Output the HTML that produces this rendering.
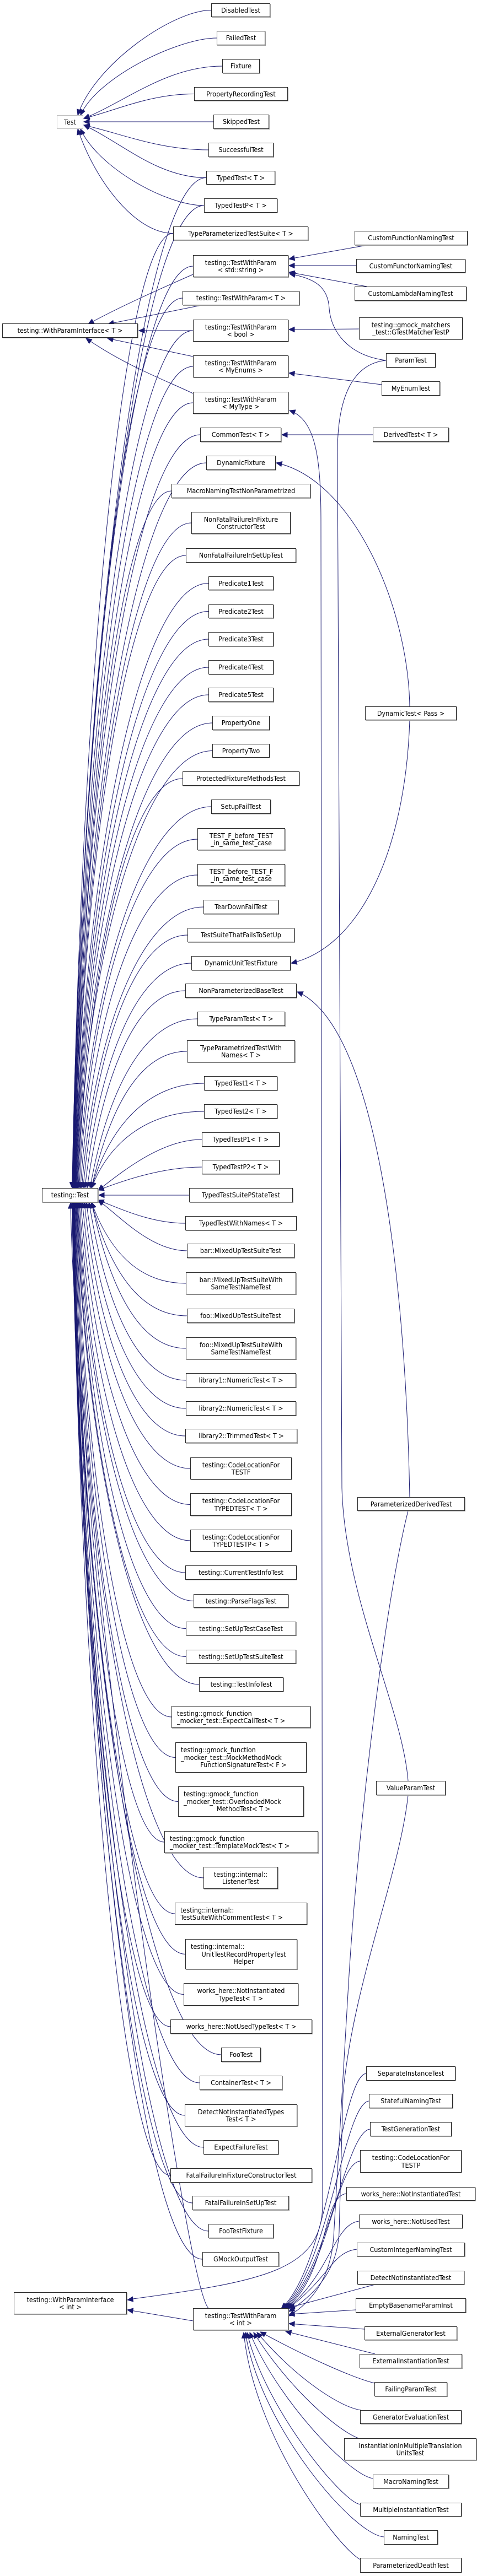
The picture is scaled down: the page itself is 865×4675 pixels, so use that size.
<!DOCTYPE html>
<html><head><meta charset="utf-8">
<style>
html,body{margin:0;padding:0;background:#fff}
#c{position:relative;width:865px;height:4675px;overflow:hidden;background:#fff}
svg{position:absolute;left:0;top:0}
.n{position:absolute;box-sizing:border-box;border:1px solid #2a2a2a;box-shadow:1px 1px 0 #9a9a9a;background:#fff;display:flex;flex-direction:column;align-items:center;justify-content:center;text-align:center;font-family:"DejaVu Sans Condensed","DejaVu Sans","Liberation Sans",sans-serif;font-stretch:condensed;font-size:12.5px;line-height:13.5px;color:#000;white-space:nowrap;z-index:2}
.g{border-color:#bfbfbf;box-shadow:none}
.l{align-items:flex-start;text-align:left;padding-left:9px}
.l span.c{align-self:center}
</style></head><body><div id="c">
<svg id="s" width="865" height="4675" xmlns="http://www.w3.org/2000/svg"></svg>

<div class="n g" style="left:103px;top:209px;width:48px;height:25px">Test</div>
<div class="n" style="left:4px;top:587px;width:246px;height:26px">testing::WithParamInterface&lt; T &gt;</div>
<div class="n" style="left:76px;top:2156px;width:102px;height:26px">testing::Test</div>
<div class="n" style="left:25px;top:4160px;width:205px;height:40px">testing::WithParamInterface<br>&lt; int &gt;</div>

<div class="n t" style="left:383px;top:6px;width:107px;height:25px">DisabledTest</div>
<div class="n t" style="left:393px;top:56px;width:88px;height:26px">FailedTest</div>
<div class="n t" style="left:403px;top:107px;width:68px;height:26px">Fixture</div>
<div class="n t" style="left:352px;top:158px;width:170px;height:25px">PropertyRecordingTest</div>
<div class="n t" style="left:387px;top:208px;width:101px;height:26px">SkippedTest</div>
<div class="n t" style="left:378px;top:259px;width:118px;height:26px">SuccessfulTest</div>
<div class="n t m" style="left:374px;top:310px;width:125px;height:25px">TypedTest&lt; T &gt;</div>
<div class="n t m" style="left:370px;top:360px;width:133px;height:26px">TypedTestP&lt; T &gt;</div>
<div class="n t m" style="left:314px;top:411px;width:245px;height:25px">TypeParameterizedTestSuite&lt; T &gt;</div>
<div class="n m" style="left:350px;top:463px;width:173px;height:40px">testing::TestWithParam<br>&lt; std::string &gt;</div>
<div class="n m" style="left:331px;top:528px;width:212px;height:26px">testing::TestWithParam&lt; T &gt;</div>
<div class="n m" style="left:350px;top:580px;width:173px;height:40px">testing::TestWithParam<br>&lt; bool &gt;</div>
<div class="n m" style="left:350px;top:645px;width:173px;height:40px">testing::TestWithParam<br>&lt; MyEnums &gt;</div>
<div class="n m" style="left:350px;top:711px;width:173px;height:40px">testing::TestWithParam<br>&lt; MyType &gt;</div>
<div class="n m" style="left:363px;top:776px;width:147px;height:26px">CommonTest&lt; T &gt;</div>
<div class="n m" style="left:374px;top:827px;width:126px;height:26px">DynamicFixture</div>
<div class="n m" style="left:311px;top:878px;width:252px;height:26px">MacroNamingTestNonParametrized</div>
<div class="n m" style="left:347px;top:929px;width:180px;height:40px">NonFatalFailureInFixture<br>ConstructorTest</div>
<div class="n m" style="left:337px;top:995px;width:200px;height:26px">NonFatalFailureInSetUpTest</div>
<div class="n m" style="left:378px;top:1046px;width:118px;height:25px">Predicate1Test</div>
<div class="n m" style="left:378px;top:1097px;width:118px;height:25px">Predicate2Test</div>
<div class="n m" style="left:378px;top:1147px;width:118px;height:26px">Predicate3Test</div>
<div class="n m" style="left:378px;top:1198px;width:118px;height:26px">Predicate4Test</div>
<div class="n m" style="left:378px;top:1248px;width:118px;height:26px">Predicate5Test</div>
<div class="n m" style="left:385px;top:1299px;width:104px;height:26px">PropertyOne</div>
<div class="n m" style="left:385px;top:1350px;width:104px;height:25px">PropertyTwo</div>
<div class="n m" style="left:331px;top:1400px;width:212px;height:26px">ProtectedFixtureMethodsTest</div>
<div class="n m" style="left:383px;top:1451px;width:108px;height:26px">SetupFailTest</div>
<div class="n m" style="left:358px;top:1503px;width:159px;height:40px">TEST_F_before_TEST<br>_in_same_test_case</div>
<div class="n m" style="left:358px;top:1568px;width:159px;height:40px">TEST_before_TEST_F<br>_in_same_test_case</div>
<div class="n m" style="left:369px;top:1633px;width:136px;height:26px">TearDownFailTest</div>
<div class="n m" style="left:340px;top:1684px;width:194px;height:26px">TestSuiteThatFailsToSetUp</div>
<div class="n m" style="left:347px;top:1735px;width:180px;height:26px">DynamicUnitTestFixture</div>
<div class="n m" style="left:336px;top:1785px;width:202px;height:26px">NonParameterizedBaseTest</div>
<div class="n m" style="left:358px;top:1836px;width:159px;height:26px">TypeParamTest&lt; T &gt;</div>
<div class="n m" style="left:339px;top:1888px;width:196px;height:40px">TypeParametrizedTestWith<br>Names&lt; T &gt;</div>
<div class="n m" style="left:370px;top:1953px;width:133px;height:26px">TypedTest1&lt; T &gt;</div>
<div class="n m" style="left:370px;top:2004px;width:133px;height:26px">TypedTest2&lt; T &gt;</div>
<div class="n m" style="left:366px;top:2055px;width:141px;height:26px">TypedTestP1&lt; T &gt;</div>
<div class="n m" style="left:366px;top:2105px;width:141px;height:26px">TypedTestP2&lt; T &gt;</div>
<div class="n m" style="left:343px;top:2156px;width:188px;height:26px">TypedTestSuitePStateTest</div>
<div class="n m" style="left:336px;top:2207px;width:202px;height:26px">TypedTestWithNames&lt; T &gt;</div>
<div class="n m" style="left:339px;top:2257px;width:195px;height:26px">bar::MixedUpTestSuiteTest</div>
<div class="n m" style="left:337px;top:2309px;width:200px;height:40px">bar::MixedUpTestSuiteWith<br>SameTestNameTest</div>
<div class="n m" style="left:339px;top:2375px;width:195px;height:26px">foo::MixedUpTestSuiteTest</div>
<div class="n m" style="left:337px;top:2427px;width:200px;height:40px">foo::MixedUpTestSuiteWith<br>SameTestNameTest</div>
<div class="n m" style="left:337px;top:2492px;width:200px;height:26px">library1::NumericTest&lt; T &gt;</div>
<div class="n m" style="left:337px;top:2543px;width:200px;height:26px">library2::NumericTest&lt; T &gt;</div>
<div class="n m" style="left:336px;top:2593px;width:203px;height:26px">library2::TrimmedTest&lt; T &gt;</div>
<div class="n m" style="left:345px;top:2645px;width:184px;height:40px">testing::CodeLocationFor<br>TESTF</div>
<div class="n m" style="left:345px;top:2710px;width:184px;height:41px">testing::CodeLocationFor<br>TYPEDTEST&lt; T &gt;</div>
<div class="n m" style="left:345px;top:2776px;width:184px;height:40px">testing::CodeLocationFor<br>TYPEDTESTP&lt; T &gt;</div>
<div class="n m" style="left:336px;top:2841px;width:202px;height:26px">testing::CurrentTestInfoTest</div>
<div class="n m" style="left:351px;top:2893px;width:172px;height:25px">testing::ParseFlagsTest</div>
<div class="n m" style="left:337px;top:2943px;width:200px;height:25px">testing::SetUpTestCaseTest</div>
<div class="n m" style="left:337px;top:2994px;width:200px;height:25px">testing::SetUpTestSuiteTest</div>
<div class="n m" style="left:361px;top:3044px;width:153px;height:26px">testing::TestInfoTest</div>
<div class="n m l" style="left:311px;top:3096px;width:252px;height:40px"><span>testing::gmock_function</span><span>_mocker_test::ExpectCallTest&lt; T &gt;</span></div>
<div class="n m l" style="left:318px;top:3162px;width:238px;height:55px"><span>testing::gmock_function</span><span>_mocker_test::MockMethodMock</span><span class="c">FunctionSignatureTest&lt; F &gt;</span></div>
<div class="n m l" style="left:323px;top:3242px;width:228px;height:55px"><span>testing::gmock_function</span><span>_mocker_test::OverloadedMock</span><span class="c">MethodTest&lt; T &gt;</span></div>
<div class="n m l" style="left:298px;top:3323px;width:279px;height:40px"><span>testing::gmock_function</span><span>_mocker_test::TemplateMockTest&lt; T &gt;</span></div>
<div class="n m" style="left:369px;top:3388px;width:135px;height:40px">testing::internal::<br>ListenerTest</div>
<div class="n m l" style="left:317px;top:3453px;width:240px;height:40px"><span>testing::internal::</span><span>TestSuiteWithCommentTest&lt; T &gt;</span></div>
<div class="n m l" style="left:336px;top:3519px;width:203px;height:55px"><span>testing::internal::</span><span class="c">UnitTestRecordPropertyTest</span><span class="c">Helper</span></div>
<div class="n m" style="left:333px;top:3599px;width:208px;height:41px">works_here::NotInstantiated<br>TypeTest&lt; T &gt;</div>
<div class="n m" style="left:309px;top:3665px;width:257px;height:26px">works_here::NotUsedTypeTest&lt; T &gt;</div>
<div class="n m" style="left:401px;top:3716px;width:72px;height:26px">FooTest</div>
<div class="n m" style="left:362px;top:3767px;width:150px;height:26px">ContainerTest&lt; T &gt;</div>
<div class="n m" style="left:335px;top:3819px;width:204px;height:40px">DetectNotInstantiatedTypes<br>Test&lt; T &gt;</div>
<div class="n m" style="left:369px;top:3884px;width:136px;height:26px">ExpectFailureTest</div>
<div class="n m" style="left:309px;top:3935px;width:257px;height:26px">FatalFailureInFixtureConstructorTest</div>
<div class="n m" style="left:349px;top:3985px;width:175px;height:26px">FatalFailureInSetUpTest</div>
<div class="n m" style="left:378px;top:4036px;width:118px;height:26px">FooTestFixture</div>
<div class="n m" style="left:367px;top:4087px;width:139px;height:26px">GMockOutputTest</div>
<div class="n" style="left:350px;top:4189px;width:173px;height:40px">testing::TestWithParam<br>&lt; int &gt;</div>

<div class="n" style="left:643px;top:419px;width:205px;height:26px">CustomFunctionNamingTest</div>
<div class="n" style="left:646px;top:470px;width:198px;height:25px">CustomFunctorNamingTest</div>
<div class="n" style="left:643px;top:520px;width:203px;height:26px">CustomLambdaNamingTest</div>
<div class="n" style="left:651px;top:576px;width:188px;height:40px">testing::gmock_matchers<br>_test::GTestMatcherTestP</div>
<div class="n" style="left:700px;top:641px;width:90px;height:26px">ParamTest</div>
<div class="n" style="left:692px;top:692px;width:106px;height:26px">MyEnumTest</div>
<div class="n" style="left:676px;top:776px;width:138px;height:26px">DerivedTest&lt; T &gt;</div>
<div class="n" style="left:662px;top:1282px;width:166px;height:25px">DynamicTest&lt; Pass &gt;</div>
<div class="n" style="left:648px;top:2717px;width:195px;height:25px">ParameterizedDerivedTest</div>
<div class="n" style="left:682px;top:3232px;width:126px;height:26px">ValueParamTest</div>
<div class="n" style="left:664px;top:3750px;width:162px;height:26px">SeparateInstanceTest</div>
<div class="n" style="left:669px;top:3800px;width:152px;height:26px">StatefulNamingTest</div>
<div class="n" style="left:671px;top:3851px;width:148px;height:26px">TestGenerationTest</div>
<div class="n" style="left:653px;top:3902px;width:184px;height:41px">testing::CodeLocationFor<br>TESTP</div>
<div class="n" style="left:628px;top:3969px;width:234px;height:25px">works_here::NotInstantiatedTest</div>
<div class="n" style="left:651px;top:4019px;width:188px;height:25px">works_here::NotUsedTest</div>
<div class="n" style="left:647px;top:4070px;width:196px;height:25px">CustomIntegerNamingTest</div>
<div class="n" style="left:648px;top:4121px;width:194px;height:25px">DetectNotInstantiatedTest</div>
<div class="n" style="left:645px;top:4171px;width:200px;height:26px">EmptyBasenameParamInst</div>
<div class="n" style="left:661px;top:4222px;width:168px;height:25px">ExternalGeneratorTest</div>
<div class="n" style="left:652px;top:4272px;width:186px;height:26px">ExternalInstantiationTest</div>
<div class="n" style="left:679px;top:4323px;width:132px;height:26px">FailingParamTest</div>
<div class="n" style="left:653px;top:4374px;width:184px;height:25px">GeneratorEvaluationTest</div>
<div class="n" style="left:624px;top:4425px;width:240px;height:40px">InstantiationInMultipleTranslation<br>UnitsTest</div>
<div class="n" style="left:676px;top:4491px;width:138px;height:25px">MacroNamingTest</div>
<div class="n" style="left:653px;top:4542px;width:184px;height:25px">MultipleInstantiationTest</div>
<div class="n" style="left:696px;top:4592px;width:98px;height:26px">NamingTest</div>
<div class="n" style="left:653px;top:4642px;width:184px;height:27px">ParameterizedDeathTest</div>
</div>
<script>
(function(){
var C='#191970',out=[];
function arrow(tx,ty,cx,cy){var dx=tx-cx,dy=ty-cy,L=Math.sqrt(dx*dx+dy*dy)||1;dx/=L;dy/=L;var bx=tx-10*dx,by=ty-10*dy,px=-dy*4.5,py=dx*4.5;
out.push('<polygon points="'+tx+','+ty+' '+(bx+px)+','+(by+py)+' '+(bx-px)+','+(by-py)+'" fill="'+C+'" stroke="'+C+'"/>');}
function add(d,tx,ty,cx,cy){out.push('<path d="'+d+'" fill="none" stroke="'+C+'" stroke-width="1"/>');if(tx!=null)arrow(tx,ty,cx,cy);}
function line(sx,sy,tx,ty){add('M'+sx+','+sy+'L'+tx+','+ty,tx,ty,sx,sy);}
function curve(sx,sy,a,b,c,d,tx,ty){add('M'+sx+','+sy+'C'+a+','+b+' '+c+','+d+' '+tx+','+ty,tx,ty,c,d);}
function geo(el){var x=parseFloat(el.style.left),y=parseFloat(el.style.top),h=parseFloat(el.style.height);return [x,y+h/2];}
// edges to Test
document.querySelectorAll('.t').forEach(function(el){var g=geo(el),x0=g[0],cy=g[1],dy=cy-221,ad=Math.abs(dy),tx,ty;
 if(ad<5){line(x0,cy,152,221);return;}
 if(ad<110){tx=152;ty=221+(dy<0?-6:6);curve(x0,cy,x0-(x0-tx)*0.4,cy,tx+(x0-tx)*0.3,ty+dy*0.3,tx,ty);return;}
 tx=(ad<200?146:141);ty=dy<0?209:234;curve(x0,cy,x0-70,cy,tx+30,ty+dy*0.45,tx,ty);});
// edges to testing::Test
document.querySelectorAll('.m').forEach(function(el){var g=geo(el),x0=g[0],cy=g[1],dy=cy-2169,ad=Math.abs(dy),up=dy<0,tx,ty;
 if(ad<5){line(x0,cy,179,2169);return;}
 if(ad<140){tx=178;ty=2169+(up?-9:9);curve(x0,cy,x0-(x0-tx)*0.4,cy,tx+40,ty+dy*0.3,tx,ty);return;}
 var t=Math.min(1,300/ad);tx=124+42*t;ty=up?2156:2182;
 curve(x0,cy,x0-Math.min(130,(x0-tx)*0.5),cy,tx+12+20*t,ty+(up?-1:1)*Math.min(ad*0.55,900),tx,ty);});
curve(378,4189,330,4140,136,2700,128,2183);
// WithParamInterface<T>
curve(350,498,300,520,220,555,160,588);
line(365,554,196,588);
line(350,600,252,600);
line(350,647,195,614);
curve(350,714,300,690,230,665,156,614);
// right -> middle
line(665,445,524,470);line(646,482,524,482);line(665,520,524,494);
add('M700,654C630,645 600,600 597,560C595,520 570,505 525,497',525,497,570,505);
line(651,597,524,598);line(692,698,524,677);line(676,789,511,789);
curve(743,1282,740,1100,640,870,501,840);
curve(743,1307,735,1550,650,1720,528,1748);
curve(743,2717,735,2300,680,1860,539,1800);
add('M234,4173C480,4140 585,4120 585,4000L582,950C582,840 575,762 525,745',525,745,575,762);arrow(231,4174,480,4140);
add('M700,654C640,660 612,720 612,820L620,2700C625,2900 730,3100 740,3232');
add('M740,3258C725,3400 640,3600 622,3800L615,4050C612,4130 560,4170 524,4195',524,4195,560,4170);
add('M740,2742C700,2900 650,3300 632,3600L605,4060C600,4130 570,4175 524,4203',524,4203,570,4175);
[[664,3763],[669,3813],[671,3864],[653,3922],[628,3981],[651,4031],[647,4082]].forEach(function(p,i){curve(p[0],p[1],p[0]-45,p[1]+5,597,4110+i*4,510+i*2,4190);});
line(680,4146,524,4188);line(645,4192,524,4200);line(661,4227,524,4217);line(680,4272,518,4231);
curve(679,4325,640,4315,560,4280,472,4232);
curve(655,4374,620,4370,540,4320,466,4233);
curve(650,4425,610,4410,520,4330,460,4233);
curve(676,4498,630,4490,500,4350,453,4233);
curve(653,4545,620,4540,480,4370,448,4233);
curve(696,4604,640,4600,470,4400,445,4233);
curve(653,4645,610,4620,460,4420,442,4233);
line(350,4212,231,4192);
document.getElementById('s').innerHTML=out.join('');
})();
</script>
</body></html>
